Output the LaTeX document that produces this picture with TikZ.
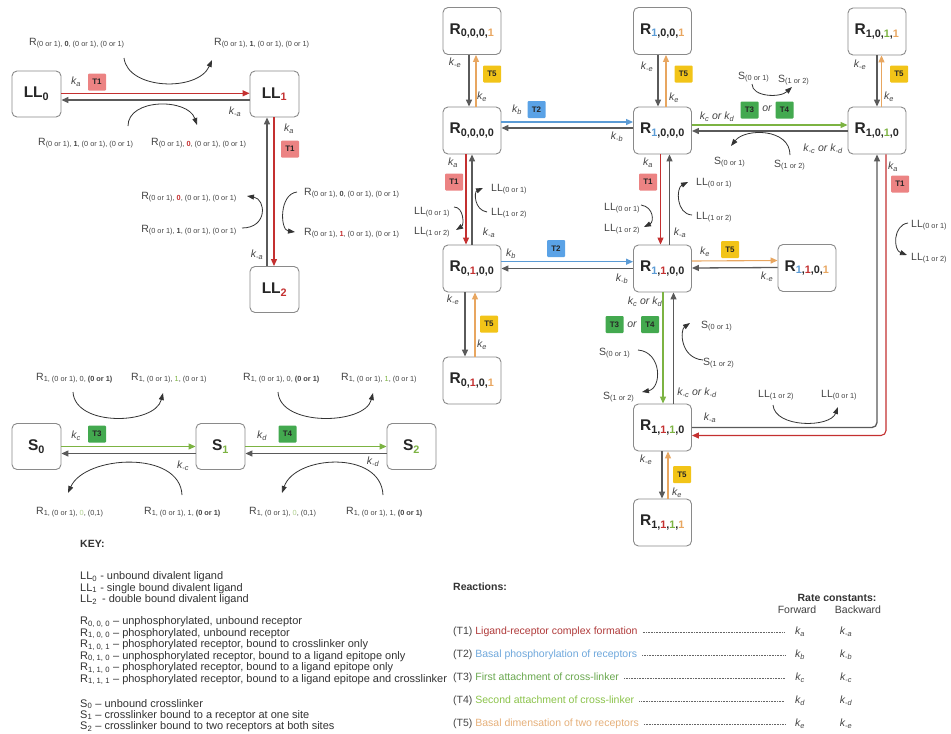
\documentclass[tikz,border=0pt]{standalone}
\usepackage{fontspec}
\setmainfont{Liberation Sans}
\usetikzlibrary{arrows.meta}

\definecolor{tone}{HTML}{C43030}
\definecolor{tonebg}{HTML}{EC8383}
\definecolor{ttwo}{HTML}{5B9BD5}
\definecolor{ttwobg}{HTML}{5AA2E6}
\definecolor{tthree}{HTML}{7CB342}
\definecolor{tthreebg}{HTML}{43A94F}
\definecolor{tfive}{HTML}{E8A660}
\definecolor{tfivebg}{HTML}{F2C418}
\definecolor{boxline}{HTML}{8A8A8A}
\definecolor{backline}{HTML}{5A5A5A}
\definecolor{txtgray}{HTML}{444444}
\definecolor{rxone}{HTML}{B03A3A}
\definecolor{rxtwo}{HTML}{6FA8DC}
\definecolor{rxthree}{HTML}{6AA84F}
\definecolor{rxfour}{HTML}{8BC34A}
\definecolor{rxfive}{HTML}{E6B07A}

\newcommand\zo{(0 or 1)}
\newcommand\ot{(1 or 2)}
\newcommand\krate[1]{\textit{k}\textsubscript{\textit{#1}}}

\begin{document}
\begin{tikzpicture}[x=1pt,y=-1pt,
  state/.style={draw=boxline, line width=0.9pt, rounded corners=5pt,
    minimum width=58pt, minimum height=47pt, inner sep=0pt, fill=white,
    text=black!85, font=\fontsize{15.5}{15.5}\selectfont\bfseries},
  smallstate/.style={state, minimum width=49pt, minimum height=46pt},
  tag/.style={minimum width=18pt, minimum height=17pt, inner sep=0pt,
    rounded corners=1pt, font=\fontsize{8}{8}\selectfont\bfseries, text=black!85},
  rate/.style={font=\fontsize{10.5}{11}\selectfont\itshape, text=txtgray, inner sep=1pt},
  small/.style={font=\fontsize{10.5}{11}\selectfont, text=txtgray, inner sep=1pt},
  keytext/.style={font=\fontsize{11}{11}\selectfont, text=black!80, inner sep=0pt, anchor=west},
  rxtext/.style={font=\fontsize{10.5}{11}\selectfont, text=txtgray, inner sep=0pt, anchor=west},
  back/.style={draw=backline, line width=1.3pt, -{Triangle[length=7pt,width=6pt]}},
  fwd/.style={line width=1.1pt, -{Triangle[length=7pt,width=6pt]}},
  fwdr/.style={fwd, draw=tone},
  fwdb/.style={fwd, draw=ttwo},
  fwdg/.style={fwd, draw=tthree},
  fwdo/.style={fwd, draw=tfive},
  curv/.style={draw=black!80, line width=0.8pt, -{Triangle[length=7pt,width=5pt]}},
  leader/.style={draw=black!60, line width=0.6pt, dash pattern=on 0.7pt off 0.9pt}]

\useasboundingbox (0,0) rectangle (951,734);
\fill[white] (0,0) rectangle (951,734);

% ---------------- ligand states ----------------
\node[smallstate] (LL0) at (36.5,94) {LL\textsubscript{0}};
\node[smallstate] (LL1) at (274.5,94) {LL\textsubscript{\color{tone}1}};
\node[smallstate] (LL2) at (274.5,289.5) {LL\textsubscript{\color{tone}2}};

\draw[fwdr] ([yshift=0.7pt]LL0.east) -- ([yshift=0.7pt]LL1.west);
\draw[back] ([yshift=-6pt]LL1.west) -- ([yshift=-6pt]LL0.east);
\draw[fwdr] ([xshift=-0.5pt]LL1.south) -- ([xshift=-0.5pt]LL2.north);
\draw[back] ([xshift=-7.5pt]LL2.north) -- ([xshift=-7.5pt]LL1.south);

\node[tag, fill=tonebg] (tA) at (97,82) {T1};
\node[tag, fill=tonebg] (tB) at (290,149) {T1};
\node[rate] at (76,82) {\krate{a}};
\node[rate] at (235,112) {\krate{-a}};
\node[rate] at (289,129) {\krate{a}};
\node[rate] at (257,255) {\krate{-a}};

\node[small, anchor=west] (la) at (28,43) {R\textsubscript{\zo, \textbf{0}, \zo, \zo}};
\node[small, anchor=west] (lb) at (213,43) {R\textsubscript{\zo, \textbf{1}, \zo, \zo}};
\node[small, anchor=west] (lc) at (37,143) {R\textsubscript{\zo, \textbf{1}, \zo, \zo}};
\node[small, anchor=west] (ld) at (150,143) {R\textsubscript{\zo, \textbf{\color{tone}0}, \zo, \zo}};
\node[small, anchor=east] (le) at (238,197) {R\textsubscript{\zo, \textbf{\color{tone}0}, \zo, \zo}};
\node[small, anchor=east] (lf) at (238,230) {R\textsubscript{\zo, \textbf{1}, \zo, \zo}};
\node[small, anchor=west] (lg) at (303,193) {R\textsubscript{\zo, \textbf{0}, \zo, \zo}};
\node[small, anchor=west] (lh) at (303,233) {R\textsubscript{\zo, \textbf{\color{tone}1}, \zo, \zo}};

\draw[curv] (124,58) .. controls (128,90) and (198,92) .. (212,60);
\draw[curv] (128,126) .. controls (128,98) and (188,98) .. (197,125);
\draw[curv] (242,228) .. controls (268,228) and (266,199) .. (247,196);
\draw[curv] (297,192) .. controls (279,194) and (280,230) .. (295,232);

% ---------------- crosslinker states ----------------
\node[smallstate] (S0) at (36.5,446.5) {S\textsubscript{0}};
\node[smallstate] (S1) at (220.5,446.5) {S\textsubscript{\color{tthree}1}};
\node[smallstate] (S2) at (411.5,446.5) {S\textsubscript{\color{tthree}2}};

\draw[fwdg] (S0.east) -- (S1.west);
\draw[back] ([yshift=-7pt]S1.west) -- ([yshift=-7pt]S0.east);
\draw[fwdg] (S1.east) -- (S2.west);
\draw[back] ([yshift=-7pt]S2.west) -- ([yshift=-7pt]S1.east);

\node[tag, fill=tthreebg] (tC) at (97,434) {T3};
\node[tag, fill=tthreebg] (tD) at (287.5,434) {T4};
\node[rate] at (76,436) {\krate{c}};
\node[rate] at (183,466) {\krate{-c}};
\node[rate] at (262,436) {\krate{d}};
\node[rate] at (373,462) {\krate{-d}};

\node[small, anchor=west] (sa) at (35,378) {R\textsubscript{1, \zo, 0, \textbf{\zo}}};
\node[small, anchor=west] (sb) at (130,378) {R\textsubscript{1, \zo, {\color{tthree}1}, \zo}};
\node[small, anchor=west] (sc) at (242,378) {R\textsubscript{1, \zo, 0, \textbf{\zo}}};
\node[small, anchor=west] (sd) at (340,378) {R\textsubscript{1, \zo, {\color{tthree}1}, \zo}};
\node[small, anchor=west] (se) at (35,512) {R\textsubscript{1, \zo, {\color{tthree!60}0}, (0,1)}};
\node[small, anchor=west] (sf) at (143,512) {R\textsubscript{1, \zo, 1, \textbf{\zo}}};
\node[small, anchor=west] (sg) at (248,512) {R\textsubscript{1, \zo, {\color{tthree!60}0}, (0,1)}};
\node[small, anchor=west] (sh) at (345,512) {R\textsubscript{1, \zo, 1, \textbf{\zo}}};

\draw[curv] (73,392) .. controls (75,427) and (155,425) .. (163,393);
\draw[curv] (278,392) .. controls (280,427) and (365,425) .. (373,393);
\draw[curv] (182,495) .. controls (180,450) and (85,455) .. (68,493);
\draw[curv] (383,495) .. controls (381,450) and (295,455) .. (282,493);

% ---------------- receptor states ----------------
\node[state] (R0001) at (472,31) {R\textsubscript{0,0,0,{\color{tfive}1}}};
\node[state] (R0000) at (472,130.5) {R\textsubscript{0,0,0,0}};
\node[state] (R1001) at (662.5,31) {R\textsubscript{{\color{ttwo}1},0,0,{\color{tfive}1}}};
\node[state] (R1000) at (662.5,130.5) {R\textsubscript{{\color{ttwo}1},0,0,0}};
\node[state] (R1011) at (877,31.5) {R\textsubscript{1,0,{\color{tthree}1},{\color{tfive}1}}};
\node[state] (R1010) at (877,130.5) {R\textsubscript{1,0,{\color{tthree}1},0}};
\node[state] (R0100) at (472,268.5) {R\textsubscript{0,{\color{tone}1},0,0}};
\node[state] (R0101) at (472,380.5) {R\textsubscript{0,{\color{tone}1},0,{\color{tfive}1}}};
\node[state] (R1100) at (662.5,268.5) {R\textsubscript{{\color{ttwo}1},{\color{tone}1},0,0}};
\node[state] (R1101) at (807,268) {R\textsubscript{{\color{ttwo}1},{\color{tone}1},0,{\color{tfive}1}}};
\node[state] (R1110) at (662.5,427.5) {R\textsubscript{1,{\color{tone}1},{\color{tthree}1},0}};
\node[state] (R1111) at (662.5,522.5) {R\textsubscript{1,{\color{tone}1},{\color{tthree}1},{\color{tfive}1}}};

% dimerisation (T5)
\draw[back] ([xshift=-3pt]R0001.south) -- ([xshift=-3pt]R0000.north);
\draw[fwdo] ([xshift=4pt]R0000.north) -- ([xshift=4pt]R0001.south);
\draw[back] ([xshift=-4.5pt]R1001.south) -- ([xshift=-4.5pt]R1000.north);
\draw[fwdo] ([xshift=3.5pt]R1000.north) -- ([xshift=3.5pt]R1001.south);
\draw[back] (R1011.south) -- (R1010.north);
\draw[fwdo] ([xshift=4.5pt]R1010.north) -- ([xshift=4.5pt]R1011.south);
\draw[back] ([xshift=-7pt]R0100.south) -- ([xshift=-7pt]R0101.north);
\draw[fwdo] ([xshift=3pt]R0101.north) -- ([xshift=3pt]R0100.south);
\draw[back] ([xshift=-0.5pt]R1110.south) -- ([xshift=-0.5pt]R1111.north);
\draw[fwdo] ([xshift=5.5pt]R1111.north) -- ([xshift=5.5pt]R1110.south);
\draw[fwdo] ([yshift=7.5pt]R1100.east) -- ([yshift=7.5pt]R1101.west);
\draw[back] ([yshift=0.5pt]R1101.west) -- ([yshift=0.5pt]R1100.east);

% phosphorylation (T2)
\draw[fwdb] ([yshift=8.5pt]R0000.east) -- ([yshift=8.5pt]R1000.west);
\draw[back] ([yshift=2.5pt]R1000.west) -- ([yshift=2.5pt]R0000.east);
\draw[fwdb] ([yshift=6.8pt]R0100.east) -- ([yshift=6.8pt]R1100.west);
\draw[back] (R1100.west) -- (R0100.east);

% crosslinker attachment (T3/T4)
\draw[fwdg] ([yshift=5.5pt]R1000.east) -- ([yshift=5.5pt]R1010.west);
\draw[back] ([yshift=-0.5pt]R1010.west) -- ([yshift=-0.5pt]R1000.east);
\draw[fwdg] ([xshift=0.5pt]R1100.south) -- ([xshift=0.5pt]R1110.north);
\draw[back] ([xshift=11pt]R1110.north) -- ([xshift=11pt]R1100.south);

% ligand binding (T1)
\draw[fwdr] ([xshift=-6pt]R0000.south) -- ([xshift=-6pt]R0100.north);
\draw[back] (R0100.north) -- (R0000.south);
\draw[fwdr] ([xshift=-2pt]R1000.south) -- ([xshift=-2pt]R1100.north);
\draw[back] ([xshift=7pt]R1100.north) -- ([xshift=7pt]R1000.south);
\draw[back, rounded corners=5pt] (R1110.east) -| (R1010.south);
\draw[fwdr, rounded corners=5pt] ([xshift=9pt]R1010.south) |- ([yshift=-8pt]R1110.east);

% reaction tags
\node[tag, fill=tfivebg] (tE) at (492,74) {T5};
\node[tag, fill=tfivebg] (tF) at (683.5,74) {T5};
\node[tag, fill=tfivebg] (tG) at (899,74) {T5};
\node[tag, fill=tfivebg] (tH) at (730,249.5) {T5};
\node[tag, fill=tfivebg] (tI) at (489,324) {T5};
\node[tag, fill=tfivebg] (tJ) at (682,474.5) {T5};
\node[tag, fill=ttwobg] (tK) at (536.5,109.5) {T2};
\node[tag, fill=ttwobg] (tL) at (556,248.5) {T2};
\node[tag, fill=tthreebg] (tM) at (749.5,110) {T3};
\node[tag, fill=tthreebg] (tN) at (784.5,110) {T4};
\node[tag, fill=tthreebg] (tO) at (614.5,324.5) {T3};
\node[tag, fill=tthreebg] (tP) at (650,324.5) {T4};
\node[tag, fill=tonebg] (tQ) at (454,182) {T1};
\node[tag, fill=tonebg] (tR) at (648,182) {T1};
\node[tag, fill=tonebg] (tS) at (900,184) {T1};
\node[rate] at (767,109) {or};
\node[rate] at (632,325) {or};

% rate constants beside the arrows
\node[rate] at (455,63) {\krate{-e}};
\node[rate] at (482,97) {\krate{e}};
\node[rate] at (647,67) {\krate{-e}};
\node[rate] at (674,98) {\krate{e}};
\node[rate] at (860,65) {\krate{-e}};
\node[rate] at (889,97) {\krate{e}};
\node[rate] at (517,110) {\krate{b}};
\node[rate] at (617,137) {\krate{-b}};
\node[rate] at (717,117) {\krate{c} or \krate{d}};
\node[rate] at (823,149) {\krate{-c} or \krate{-d}};
\node[rate] at (453,163) {\krate{a}};
\node[rate] at (489,233) {\krate{-a}};
\node[rate] at (648,163) {\krate{a}};
\node[rate] at (680,233) {\krate{-a}};
\node[rate] at (511,254) {\krate{b}};
\node[rate] at (622,279) {\krate{-b}};
\node[rate] at (705,252) {\krate{e}};
\node[rate] at (767,277) {\krate{-e}};
\node[rate] at (453,300) {\krate{-e}};
\node[rate] at (482,345) {\krate{e}};
\node[rate] at (645,302) {\krate{c} or \krate{d}};
\node[rate] at (697,393) {\krate{-c} or \krate{-d}};
\node[rate] at (893,167) {\krate{a}};
\node[rate] at (710,418) {\krate{-a}};
\node[rate] at (646,460) {\krate{-e}};
\node[rate] at (677,493) {\krate{e}};

% co-reactants with curved arrows
\node[small, anchor=west] (na) at (737,77) {S\textsubscript{\zo}};
\node[small, anchor=west] (nb) at (777,80) {S\textsubscript{\ot}};
\node[small, anchor=west] (nc) at (713,162) {S\textsubscript{\zo}};
\node[small, anchor=west] (nd) at (773,165) {S\textsubscript{\ot}};
\draw[curv] (752,84) .. controls (752,97) and (780,98) .. (792,87);
\draw[curv] (790,155) .. controls (790,128) and (745,128) .. (731,146);

\node[small, anchor=west] (ne) at (603,208) {LL\textsubscript{\zo}};
\node[small, anchor=west] (nf) at (603,229) {LL\textsubscript{\ot}};
\node[small, anchor=west] (ng) at (695,183) {LL\textsubscript{\zo}};
\node[small, anchor=west] (nh) at (695,217) {LL\textsubscript{\ot}};
\draw[curv] (641,205) .. controls (654,207) and (654,222) .. (644,227);
\draw[curv] (692,215) .. controls (676,214) and (676,188) .. (688,182);

\node[small, anchor=west] (ni) at (413,212) {LL\textsubscript{\zo}};
\node[small, anchor=west] (nj) at (413,232) {LL\textsubscript{\ot}};
\node[small, anchor=west] (nk) at (490,189) {LL\textsubscript{\zo}};
\node[small, anchor=west] (nl) at (490,213) {LL\textsubscript{\ot}};
\draw[curv] (454,207) .. controls (464,207) and (464,225) .. (456,230);
\draw[curv] (487,212) .. controls (474,210) and (474,192) .. (483,188);

\node[small, anchor=west] (nm) at (598,353) {S\textsubscript{\zo}};
\node[small, anchor=west] (nn) at (602,397) {S\textsubscript{\ot}};
\node[small, anchor=west] (no) at (700,326) {S\textsubscript{\zo}};
\node[small, anchor=west] (np) at (702,363) {S\textsubscript{\ot}};
\draw[curv] (638,350) .. controls (662,352) and (662,388) .. (642,392);
\draw[curv] (703,360) .. controls (680,358) and (680,330) .. (690,323);

\node[small, anchor=west] (nq) at (910,225) {LL\textsubscript{\zo}};
\node[small, anchor=west] (nr) at (910,258) {LL\textsubscript{\ot}};
\draw[curv] (908,223) .. controls (893,225) and (893,250) .. (907,255);
\node[small, anchor=west] (ns) at (757,395) {LL\textsubscript{\ot}};
\node[small, anchor=west] (nt) at (820,395) {LL\textsubscript{\zo}};
\draw[curv] (773,405) .. controls (775,428) and (830,428) .. (838,407);

% ---------------- key ----------------
\node[keytext, font=\fontsize{10.5}{11}\selectfont\bfseries] (keyhead) at (80,544) {KEY:};
\node[keytext] (k1) at (80,577) {LL\textsubscript{0} - unbound divalent ligand};
\node[keytext] (k2) at (80,588.5) {LL\textsubscript{1} - single bound divalent ligand};
\node[keytext] (k3) at (80,600) {LL\textsubscript{2}\, - double bound divalent ligand};
\node[keytext] (k4) at (80,622) {R\textsubscript{0, 0, 0} -- unphosphorylated, unbound receptor};
\node[keytext] (k5) at (80,633.5) {R\textsubscript{1, 0, 0} -- phosphorylated, unbound receptor};
\node[keytext] (k6) at (80,645) {R\textsubscript{1, 0, 1} -- phosphorylated receptor, bound to crosslinker only};
\node[keytext] (k7) at (80,656.5) {R\textsubscript{0, 1, 0} -- unphosphorylated receptor, bound to a ligand epitope only};
\node[keytext] (k8) at (80,668) {R\textsubscript{1, 1, 0} -- phosphorylated receptor, bound to a ligand epitope only};
\node[keytext] (k9) at (80,679.5) {R\textsubscript{1, 1, 1} -- phosphorylated receptor, bound to a ligand epitope and crosslinker};
\node[keytext] (k10) at (80,704) {S\textsubscript{0} -- unbound crosslinker};
\node[keytext] (k11) at (80,715.5) {S\textsubscript{1} -- crosslinker bound to a receptor at one site};
\node[keytext] (k12) at (80,727) {S\textsubscript{2} -- crosslinker bound to two receptors at both sites};

% ---------------- reactions table ----------------
\node[rxtext, font=\fontsize{10.5}{11}\selectfont\bfseries, text=black!80] (rhead) at (453,587) {Reactions:};
\node[font=\fontsize{10.5}{11}\selectfont\bfseries, text=black!80, inner sep=0pt] (chead) at (837,598) {Rate constants:};
\node[font=\fontsize{10.5}{11}\selectfont, text=black!75, inner sep=0pt] (cfw) at (797,609.5) {Forward};
\node[font=\fontsize{10.5}{11}\selectfont, text=black!75, inner sep=0pt] (cbw) at (858,609.5) {Backward};

\node[rxtext] (rx1) at (453,632) {(T1) {\color{rxone}Ligand-receptor complex formation}};
\node[rxtext] (rx2) at (453,655) {(T2) {\color{rxtwo}Basal phosphorylation of receptors}};
\node[rxtext] (rx3) at (453,678) {(T3) {\color{rxthree}First attachment of cross-linker}};
\node[rxtext] (rx4) at (453,701) {(T4) {\color{rxfour}Second attachment of cross-linker}};
\node[rxtext] (rx5) at (453,724) {(T5) {\color{rxfive}Basal dimensation of two receptors}};
\node[rate] (rf1) at (800,632) {\krate{a}};
\node[rate] (rf2) at (800,655) {\krate{b}};
\node[rate] (rf3) at (800,678) {\krate{c}};
\node[rate] (rf4) at (800,701) {\krate{d}};
\node[rate] (rf5) at (800,724) {\krate{e}};
\node[rate] (rb1) at (846,632) {\krate{-a}};
\node[rate] (rb2) at (846,655) {\krate{-b}};
\node[rate] (rb3) at (846,678) {\krate{-c}};
\node[rate] (rb4) at (846,701) {\krate{-d}};
\node[rate] (rb5) at (846,724) {\krate{-e}};
\foreach \i in {1,...,5}
  \draw[leader, shorten <=5pt, shorten >=9pt] (rx\i.east) -- (rf\i.west);
\end{tikzpicture}
\end{document}
